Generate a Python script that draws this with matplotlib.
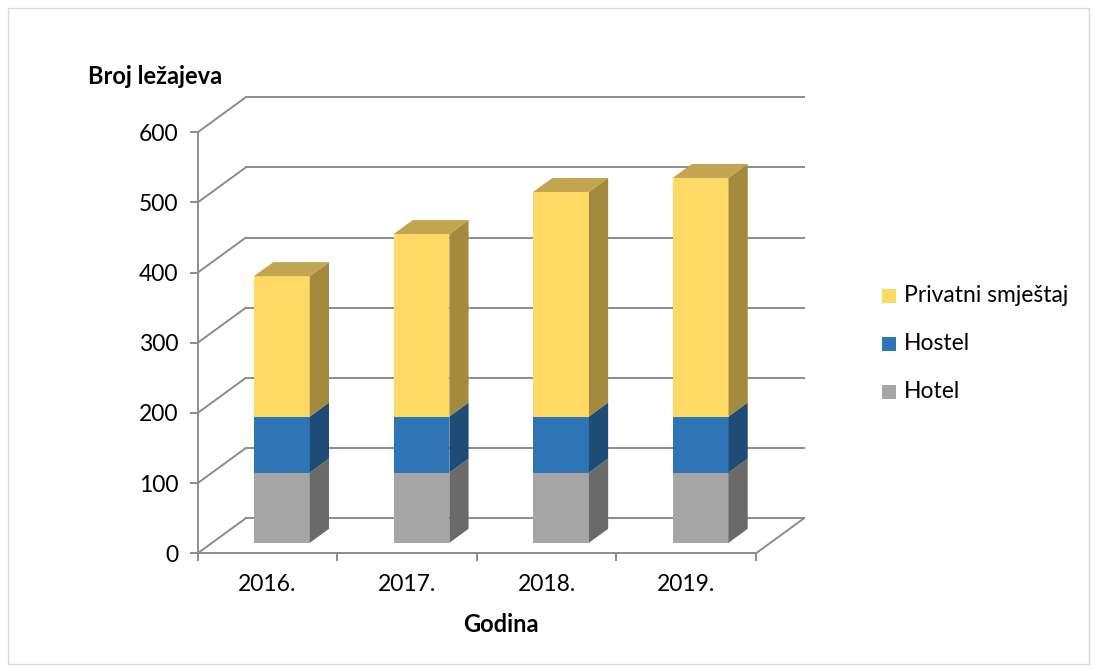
import matplotlib
matplotlib.use("Agg")
import matplotlib.pyplot as plt
from matplotlib.patches import Rectangle, Polygon
from matplotlib.transforms import offset_copy
import numpy as np

# ---- data ----
years = ["2016.", "2017.", "2018.", "2019."]
hotel = [100, 100, 100, 100]
hostel = [80, 80, 80, 80]
privatni = [200, 260, 320, 340]
series_names = ["Hotel", "Hostel", "Privatni smještaj"]
yticks = [0, 100, 200, 300, 400, 500, 600]

front_cols = ["#A5A5A5", "#2E75B6", "#FFD966"]
side_cols = ["#6A6A6A", "#1F4B77", "#A38A3F"]
top_cols = ["#8A8A8A", "#2A5F95", "#C2A550"]

plt.rcParams['font.family'] = ['Lato', 'DejaVu Sans']
FS = 16.5
FSB = 17

W, H = 1097, 671
fig = plt.figure(figsize=(W / 100, H / 100), dpi=100)


def fx(px):
    return px / W


def fy(py):
    return 1 - py / H


# geometry (pixels)
ax_l, ax_r = 197.7, 804.0
ax_b, ax_t = 553.3, 95.7
cat_px = (756.0 - 197.7) / 4
val_px = (553.3 - 132.3) / 600
DX = 48.0 / cat_px       # depth offset in category units
DY = 35.0 / val_px       # depth offset in value units

ax = fig.add_axes([fx(ax_l), fy(ax_b), fx(ax_r) - fx(ax_l), fy(ax_t) - fy(ax_b)])
x0 = -0.5
ax.set_xlim(x0, x0 + (ax_r - ax_l) / cat_px)
ax.set_ylim(0, (ax_b - ax_t) / val_px)
ax.patch.set_alpha(0)

grid_c = "#8C8C8C"
lw = 1.4

# y axis with ticks
for s in ["top", "right"]:
    ax.spines[s].set_visible(False)
ax.spines["left"].set_bounds(0, 600)
ax.spines["left"].set_color(grid_c)
ax.spines["left"].set_linewidth(lw)
ax.spines["bottom"].set_bounds(-0.5, 3.5)
ax.spines["bottom"].set_color(grid_c)
ax.spines["bottom"].set_linewidth(lw)
ax.set_yticks(yticks)
ax.set_yticklabels([str(v) for v in yticks], fontsize=FS)
ax.tick_params(axis="y", length=6, width=lw, color=grid_c, pad=8)
ax.set_xticks(np.arange(-0.5, 4.0, 1.0))
ax.set_xticklabels([])
ax.tick_params(axis="x", length=6, width=lw, color=grid_c)

xmax = 3.5 + DX
# back wall grid + diagonals
for v in yticks:
    ax.plot([x0, x0 + DX], [v, v + DY], color=grid_c, lw=lw, clip_on=False, zorder=1)
    ax.plot([x0 + DX, xmax], [v + DY, v + DY], color=grid_c, lw=lw, clip_on=False, zorder=1)
# floor right diagonal
ax.plot([3.5, xmax], [0, DY], color=grid_c, lw=lw, clip_on=False, zorder=1)

# bars
xs = np.arange(len(years))
bw = 0.4
f0 = 0.3      # front gap fraction of depth
fd = 0.4      # bar depth fraction
ox, oy = f0 * DX, f0 * DY
dx, dy = fd * DX, fd * DY
stack = [hotel, hostel, privatni]
bottoms = np.zeros(len(years))
for si, vals in enumerate(stack):
    vals = np.array(vals, dtype=float)
    tops = bottoms + vals
    ax.bar(xs + ox, vals, width=bw, bottom=bottoms + oy, color=front_cols[si],
           edgecolor="none", zorder=3, clip_on=False)
    for i in range(len(xs)):
        xr = xs[i] + ox + bw / 2
        b = bottoms[i] + oy
        t = tops[i] + oy
        side = Polygon([(xr, b), (xr + dx, b + dy), (xr + dx, t + dy), (xr, t)],
                       closed=True, facecolor=side_cols[si], edgecolor="none",
                       zorder=3, clip_on=False)
        ax.add_patch(side)
        if si == len(stack) - 1:
            xl = xs[i] + ox - bw / 2
            top = Polygon([(xl, t), (xr, t), (xr + dx, t + dy), (xl + dx, t + dy)],
                          closed=True, facecolor=top_cols[si], edgecolor="none",
                          zorder=3, clip_on=False)
            ax.add_patch(top)
    bottoms = tops

# category labels
tr = offset_copy(ax.transData, fig=fig, y=-31, units="dots")
for i, lab in enumerate(years):
    ax.text(xs[i], 0, lab, transform=tr, ha="center", va="center", fontsize=FS)

# axis titles
fig.text(fx(88), fy(76), "Broj ležajeva", ha="left", va="center",
         fontsize=FSB, fontweight="bold")
fig.text(fx(501), fy(625), "Godina", ha="center", va="center",
         fontsize=FSB, fontweight="bold")

# legend (manual)
leg_items = [("Privatni smještaj", front_cols[2], 296),
             ("Hostel", front_cols[1], 344),
             ("Hotel", front_cols[0], 392)]
sq = 14
for name, col, yc in leg_items:
    fig.add_artist(Rectangle((fx(882), fy(yc + sq / 2)), sq / W, sq / H,
                             transform=fig.transFigure, facecolor=col,
                             edgecolor="none"))
    fig.text(fx(904), fy(yc), name, ha="left", va="center", fontsize=FS)

# outer border
fig.add_artist(Rectangle((fx(8), fy(664)), (1089 - 8) / W, (664 - 8) / H,
                         transform=fig.transFigure, facecolor="none",
                         edgecolor="#D9D9D9", lw=1))

fig.savefig("out.png", dpi=100)
